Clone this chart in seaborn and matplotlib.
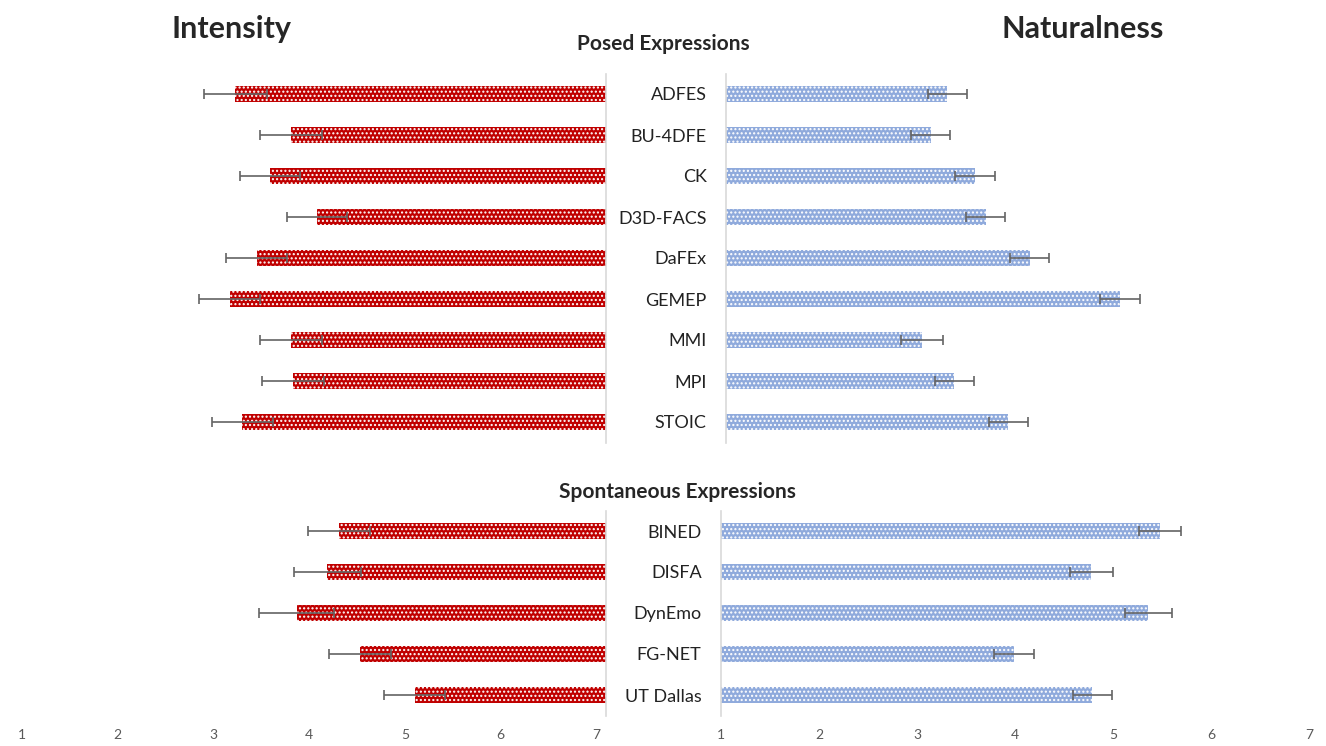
import numpy as np
import pandas as pd
import matplotlib
matplotlib.use("Agg")
import matplotlib.pyplot as plt
import seaborn as sns

# data
posed_names = ["ADFES", "BU-4DFE", "CK", "D3D-FACS", "DaFEx", "GEMEP", "MMI", "MPI", "STOIC"]
posed_intensity = [3.23, 3.81, 3.59, 4.08, 3.45, 3.17, 3.81, 3.83, 3.30]
posed_intensity_err = [0.33, 0.32, 0.31, 0.31, 0.32, 0.32, 0.32, 0.32, 0.32]
posed_natural = [3.26, 3.09, 3.54, 3.65, 4.10, 5.02, 3.00, 3.33, 3.88]
posed_natural_err = [0.20, 0.20, 0.20, 0.20, 0.20, 0.20, 0.21, 0.20, 0.20]

spont_names = ["BINED", "DISFA", "DynEmo", "FG-NET", "UT Dallas"]
spont_intensity = [4.31, 4.19, 3.87, 4.53, 5.10]
spont_intensity_err = [0.32, 0.35, 0.39, 0.32, 0.32]
spont_natural = [5.48, 4.78, 5.36, 3.99, 4.79]
spont_natural_err = [0.21, 0.22, 0.24, 0.20, 0.20]

scale_ticks = [1, 2, 3, 4, 5, 6, 7]

RED = "#c00000"
BLUE = "#8faadc"
ERR = "#646464"
GRID = "#d9d9d9"
LEFT_BASE = 7.1

sns.set_style("white")
plt.rcParams["font.family"] = ["Lato", "DejaVu Sans"]
plt.rcParams["hatch.linewidth"] = 1.0

W, H = 1326, 746
fig = plt.figure(figsize=(W / 100, H / 100), dpi=100)


def box(x0, y0, x1, y1):
    return [x0 / W, 1 - y1 / H, (x1 - x0) / W, (y1 - y0) / H]


def draw_left(ax, names, vals, errs, bottom):
    y = np.arange(len(names))
    widths = [LEFT_BASE - v for v in vals]
    ax.barh(y, widths, left=vals, height=0.4, color=RED,
            edgecolor="white", linewidth=0, hatch="....")
    ax.errorbar(vals, y, xerr=errs, fmt="none", ecolor=ERR,
                elinewidth=1.2, capsize=3.5, capthick=1.2)
    ax.set_xlim(1, LEFT_BASE)
    ax.set_ylim(len(names) - 0.5, -0.5)
    ax.set_yticks([])
    for s in ["left", "top", "bottom"]:
        ax.spines[s].set_visible(False)
    ax.spines["right"].set_color(GRID)
    ax.spines["right"].set_linewidth(1.2)
    if bottom:
        ax.set_xticks(scale_ticks)
        ax.tick_params(axis="x", length=0, labelsize=10, labelcolor="#595959", pad=10)
    else:
        ax.set_xticks([])


def draw_right(ax, names, vals, errs, bottom):
    df = pd.DataFrame({"name": names, "value": vals})
    sns.barplot(data=df, x="value", y="name", ax=ax, orient="h", color=BLUE,
                saturation=1, width=0.4, errorbar=None,
                edgecolor="white", linewidth=0, hatch="....")
    y = np.arange(len(names))
    ax.errorbar(vals, y, xerr=errs, fmt="none", ecolor=ERR,
                elinewidth=1.2, capsize=3.5, capthick=1.2)
    ax.set_xlim(1, 7)
    ax.set_ylim(len(names) - 0.5, -0.5)
    ax.set_xlabel("")
    ax.set_ylabel("")
    ax.tick_params(axis="y", length=0, labelsize=13, pad=14, labelcolor="#222222")
    for s in ["right", "top", "bottom"]:
        ax.spines[s].set_visible(False)
    ax.spines["left"].set_color(GRID)
    ax.spines["left"].set_linewidth(1.2)
    if bottom:
        ax.set_xticks(scale_ticks)
        ax.tick_params(axis="x", length=0, labelsize=10, labelcolor="#595959", pad=10)
    else:
        ax.set_xticks([])


ax_pl = fig.add_axes(box(22, 73.5, 606, 442.5))
ax_pr = fig.add_axes(box(726, 73.5, 1314, 442.5))
ax_sl = fig.add_axes(box(22, 510.5, 606, 715.5))
ax_sr = fig.add_axes(box(721, 510.5, 1309, 715.5))

draw_left(ax_pl, posed_names, posed_intensity, posed_intensity_err, False)
draw_right(ax_pr, posed_names, posed_natural, posed_natural_err, False)
draw_left(ax_sl, spont_names, spont_intensity, spont_intensity_err, True)
draw_right(ax_sr, spont_names, spont_natural, spont_natural_err, True)

fig.text(232 / W, 1 - 29 / H, "Intensity", ha="center", va="center",
         fontsize=22, fontweight="bold")
fig.text(1083 / W, 1 - 29 / H, "Naturalness", ha="center", va="center",
         fontsize=22, fontweight="bold")
fig.text(663 / W, 1 - 44 / H, "Posed Expressions", ha="center", va="center",
         fontsize=15, fontweight="bold")
fig.text(677 / W, 1 - 492 / H, "Spontaneous Expressions", ha="center", va="center",
         fontsize=15, fontweight="bold")

fig.savefig("out.png", dpi=100)
